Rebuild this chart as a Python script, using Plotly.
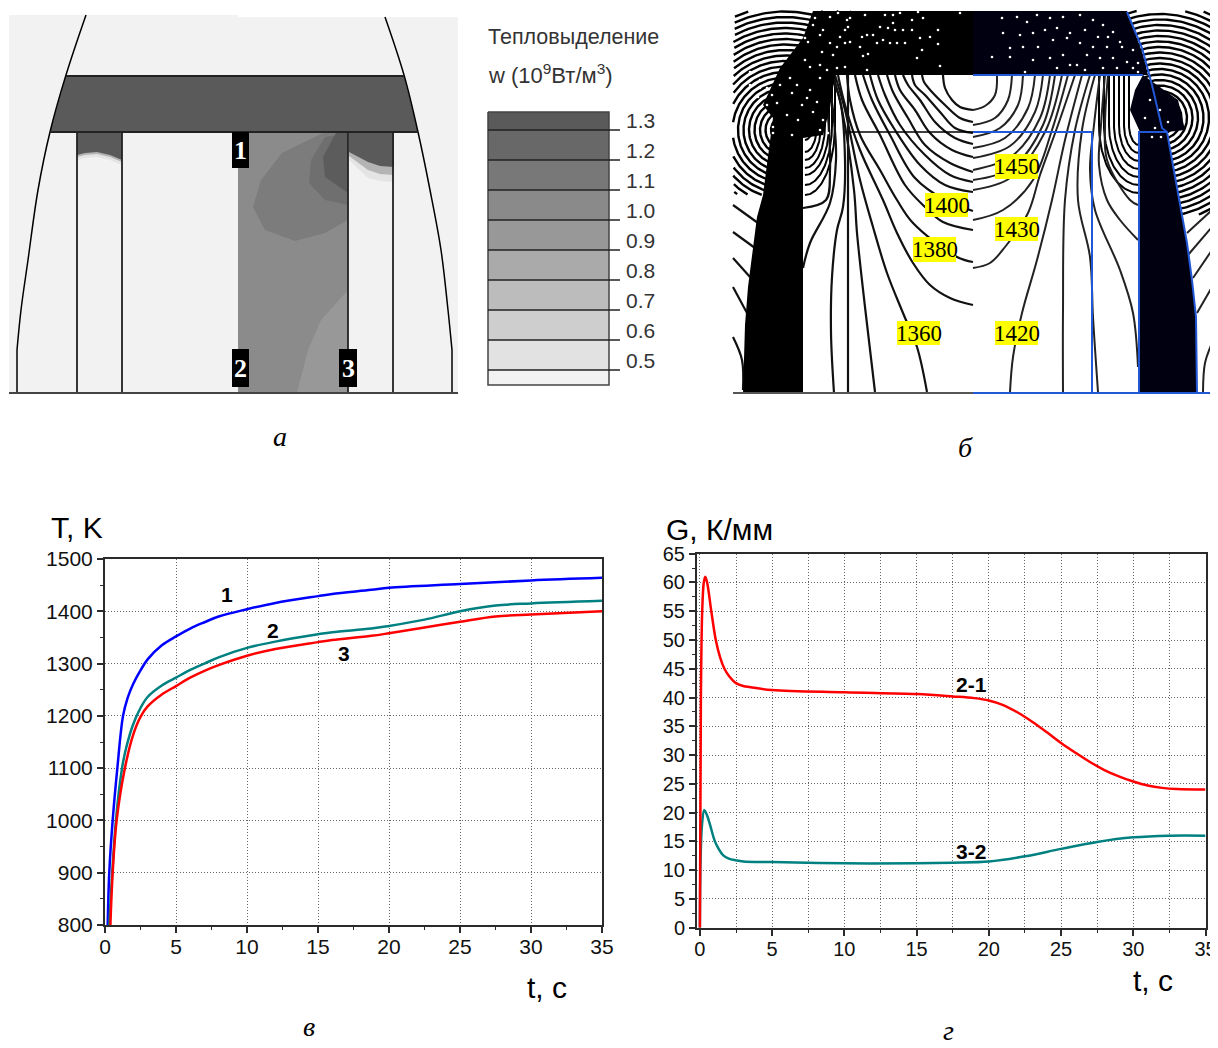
import math
import plotly.graph_objects as go

W, H = 1218, 1048
PAGE = 8  # the page's own margin: canvas pixel = picture pixel - 8

# ---------- chart в : temperature ----------
T_T1 = [0.19,0.3,0.54,0.87,1.27,1.6,2,2.5,3,4,5,6,7,8,10,12,15,16,18.75,20,25,30,35]
V_T1 = [800,900,1000,1100,1200,1235,1262,1287,1308,1335,1352,1367,1379,1390,1404,1416,1429,1433,1441,1445,1452,1459,1464]
T_T2 = [0.3,0.77,1.2,1.5,2,2.5,3,4,5,6,7,8,10,12,15,16,18.75,20,22.5,25,27.5,30,35]
V_T2 = [800,1000,1100,1140,1185,1215,1236,1258,1273,1288,1300,1312,1330,1342,1356,1360,1367,1372,1384,1400,1411,1415,1420]
T_T3 = [0.38,0.54,0.82,1.4,2,2.5,3,4,5,6,7,8,10,12,15,16,18.75,20,22.5,25,27.5,30,35]
V_T3 = [800,900,1000,1100,1165,1198,1218,1241,1257,1273,1286,1297,1315,1328,1341,1345,1353,1358,1369,1380,1390,1394,1400]

# ---------- chart г : gradient ----------
T_G21 = [0,0.07,0.16,0.27,0.37,0.5,0.79,1.1,1.4,1.7,2,2.5,3,3.5,5,10,15,17.5,19,20,21,22,23,24,25,26,27,28,29,30,31,32,33,35]
V_G21 = [0,40,55,60,61,60,55,50,47,45,43.8,42.5,42,41.8,41.3,40.9,40.6,40.2,39.9,39.5,38.7,37.4,35.8,34,32.1,30.4,28.8,27.4,26.3,25.4,24.7,24.3,24.1,24]
T_G32 = [0,0.05,0.15,0.3,0.5,0.7,1.04,1.3,1.6,2,2.5,3,5,10,15,17.5,20,22.5,25,27.5,30,32.5,35]
V_G32 = [0,12,18,20.4,19.5,17.9,15,13.7,12.6,12,11.7,11.5,11.4,11.2,11.2,11.3,11.5,12.4,13.7,14.9,15.7,16,16]

# ---------- panel а : heat-release map, drawn in the picture's own units ----------
BAND = [(66,76),(404,76),(418,132),(50,132)]
OUTLINE_L = [(86,15),(66,75),(50,132),(38,190),(28,260),(21,310),(17,350)]
OUTLINE_R = [(385,17),(404,75),(418,132),(430,190),(441,250),(448,310),(452,350)]
FOOT_X = [17,452]
WALL_X = [77,122,348,393]
STUB_L = [[(77,132),(122,132),(122,165),(110,160),(97,157),(85,158),(77,160)],
          [(77,132),(122,132),(122,162),(110,157),(97,154),(85,155),(77,157)],
          [(77,132),(122,132),(122,160),(110,155),(97,152),(85,153),(77,155)]]
STUB_R = [[(349,132),(394,132),(394,182),(380,181),(368,178),(349,160)],
          [(349,132),(394,132),(394,175),(380,174),(368,170),(349,156)],
          [(349,132),(394,132),(394,167),(380,166),(368,162),(349,152)]]
STUB_FILLS = ["#e4e4e4","#b4b4b4","#5a5a5a"]
ZONES = [
 ([(238,132),(348,132),(348,393),(238,393)], "#8b8b8b", False),
 ([(348,290),(321,320),(308,350),(297,393),(348,393)], "#989898", False),
 ([(323,133),(282,153),(261,180),(253,207),(265,230),(295,241),(325,233),(348,220),(348,133)], "#7c7c7c", False),
 ([(325,137),(311,160),(309,183),(325,200),(348,205),(348,133)], "#6f6f6f", False),
 ([(336,133),(323,157),(325,177),(348,193),(348,133)], "#5c5c5c", False),
]
NODE_BOXES = [("1",232,249,132,168),("2",232,249,349,387),("3",339,357,349,387)]
LEGEND_LEVELS = ["1.3","1.2","1.1","1.0","0.9","0.8","0.7","0.6","0.5"]
LEGEND_EDGES = [112,130,160,190,220,250,280,310,340,370,385]
LEGEND_FILLS = ["#5a5a5a","#686868","#787878","#8a8a8a","#989898","#aaaaaa","#bcbcbc","#cecece","#e2e2e2","#f2f2f2"]

# ---------- panel б : temperature contours ----------
ARC_L_RADII = [14+5.5*i for i in range(24)]
ARC_R_RADII = [16+5.5*i for i in range(24)]
FAN_L = [(8,15),(12,27),(16,35),(20,43),(24,50),(27,60),(30,70)]
FAN_R = [(10,20),(15,28),(20,36),(25,44),(30,52),(35,60),(40,68)]
CONT_L = [
 [(973,110),(960,107),(952,100),(945,88),(943,75)],
 [(973,122),(960,118),(945,105),(932,92),(924,82),(922,75)],
 [(973,133),(955,128),(940,112),(925,95),(915,85),(912,75)],
 [(973,144),(955,138),(935,122),(920,100),(908,85),(903,75)],
 [(973,157),(952,150),(930,133),(915,110),(900,90),(895,75)],
 [(973,172),(950,163),(925,145),(908,118),(893,92),(887,75)],
 [(973,182),(950,175),(925,155),(900,125),(885,95),(878,75)],
 [(973,192),(945,185),(920,165),(895,130),(878,100),(870,75)],
 [(973,211),(945,200),(915,178),(890,135),(872,100),(863,75)],
 [(973,230),(943,222),(925,207),(905,185),(880,135),(862,100),(855,75)],
 [(973,262),(957,257),(913,223),(897,200),(880,170),(860,135),(850,100),(847,75)],
 [(973,305),(950,298),(930,285),(913,263),(897,233),(883,200),(860,150),(845,105),(838,75)],
 [(927,392),(917,347),(903,313),(887,273),(873,227),(860,180),(845,110),(835,75)],
 [(875,392),(865,307),(857,233),(854,190),(842,110),(833,75)],
 [(848,393),(848,75)],
 [(834,393),(831,333),(832,277),(837,230),(843,207),(845,160),(840,100),(830,75)],
 [(803,268),(810,243),(830,203),(836,160),(834,120),(828,75)],
 [(803,208),(826,200),(830,170),(829,130),(824,75)],
 [(733,205),(758,223)],[(733,232),(755,248)],[(733,258),(750,277)],[(733,287),(747,313)],
 [(733,337),(742,360),(743,390)],
]
CONT_R = [
 [(973,110),(985,106),(995,95),(997,75)],
 [(973,125),(995,118),(1008,100),(1012,75)],
 [(973,137),(1000,128),(1018,105),(1023,75)],
 [(973,148),(1005,138),(1028,108),(1035,75)],
 [(973,158),(1010,146),(1035,112),(1043,75)],
 [(973,170),(1012,156),(1040,118),(1050,75)],
 [(973,180),(1012,168),(1043,125),(1055,75)],
 [(973,190),(1010,178),(1045,132),(1062,75)],
 [(973,220),(1003,210),(1033,180),(1052,130),(1068,75)],
 [(973,268),(990,263),(1005,247),(1028,213),(1040,175),(1058,125),(1075,75)],
 [(1010,392),(1013,357),(1022,313),(1037,260),(1052,200),(1065,140),(1082,75)],
 [(1063,392),(1063,310),(1065,200),(1075,130),(1090,75)],
 [(1098,392),(1093,317),(1090,257),(1078,200),(1082,130),(1095,75)],
 [(1138,367),(1133,313),(1120,270),(1095,210),(1090,170),(1094,125),(1100,75)],
 [(1138,240),(1120,220),(1107,200),(1099,165),(1101,125),(1105,75)],
 [(1138,205),(1130,200),(1107,160),(1105,125),(1108,75)],
 [(1187,233),(1212,210)],[(1188,255),(1212,227)],[(1193,278),(1212,250)],[(1197,313),(1212,287)],
 [(1203,392),(1205,363),(1212,343)],
]
BLACK_L = [(813,11),(973,11),(973,75),(835,75),(830,108),(823,135),(803,138),(803,393),(743,393),(745,325),
           (748,287),(752,257),(757,217),(763,195),(770,138),(773,118),(763,105),(780,68),(803,38)]
BLACK_R = [[(973,11),(1127,11),(1143,55),(1148,75),(973,75)],
           [(1143,75),(1178,100),(1185,130),(1167,132),(1140,132),(1130,110),(1135,90)],
           [(1139,133),(1167,133),(1180,205),(1187,243),(1192,280),(1196,317),(1197,393),(1139,393)]]
BLUE_LINES = [[(973,75),(1143,75)],[(1127,12),(1142,48),(1152,85),(1162,128),(1167,132),(1180,205),(1187,243),(1192,280),(1196,317),(1197,393)],
              [(973,132),(1092,132),(1092,393)],[(1139,393),(1139,132),(1167,132)],[(973,393),(1212,393)]]
SPECK_L = [(830,17),(838,13),(847,20),(850,18),(865,15),(885,15),(893,15),(900,13),(918,12),(960,13),(912,20),(923,18),
 (893,23),(880,27),(888,28),(895,30),(903,30),(912,30),(938,30),(873,35),(867,35),(862,37),(845,30),(848,27),(823,30),
 (820,35),(840,37),(830,43),(837,47),(845,43),(850,42),(860,47),(877,43),(883,40),(890,43),(897,43),(905,43),(920,38),
 (930,37),(938,44),(922,50),(917,58),(940,66),(868,54),(863,56),(833,55),(822,52),(810,67),(820,65),(837,68),(845,67),
 (867,70),(827,70),(805,60),(808,42),(805,38),(815,18),(813,25),(750,72),(760,80),(767,88),(772,95),(780,85),(790,78),
 (797,85),(810,90),(820,78),(807,98),(817,102),(802,105),(792,93),(777,103),(787,115),(798,120),(773,127),(773,133),
 (792,135),(813,112),(823,120),(820,130),(828,133),(767,105),(760,88),(750,85),(758,97)]
SPECK_R = [(1002,18),(1017,17),(1027,22),(1037,15),(1050,18),(1063,17),(1080,15),(1093,20),(1103,25),(1113,32),(1003,33),
 (1020,35),(1033,33),(1045,30),(1057,28),(1070,33),(1085,30),(1098,37),(1108,37),(1120,42),(992,57),(1010,48),(1023,47),
 (1038,47),(1053,40),(1067,38),(1080,43),(1093,47),(1107,47),(1122,47),(1133,50),(1010,57),(1033,60),(1050,58),(1063,55),
 (1077,65),(1087,55),(1100,58),(1113,58),(1127,62),(1138,63),(1085,70),(1025,72),(1057,68),(1070,65),(1103,68),(1117,68),
 (1133,68),(1138,72),(1150,100),(1160,110),(1145,118),(1168,122),(1155,128),(1152,137),(1161,137)]
YELLOW_LABELS = [("1450",995,1038,154,179),("1400",925,968,193,217),("1430",995,1038,217,241),
                 ("1380",913,956,237,262),("1360",897,940,321,345),("1420",995,1038,321,345)]

fig = go.Figure()

def poly(pts, fill, smooth=False):
    fig.add_trace(go.Scatter(x=[p[0] for p in pts]+[pts[0][0]], y=[p[1] for p in pts]+[pts[0][1]], mode="lines",
                             fill="toself", fillcolor=fill, line=dict(color=fill, width=0, shape="spline" if smooth else "linear"),
                             xaxis="x3", yaxis="y3", hoverinfo="skip", showlegend=False))

def path(pts, color="black", w=1.5, smooth=False):
    fig.add_trace(go.Scatter(x=[p[0] for p in pts], y=[p[1] for p in pts], mode="lines",
                             line=dict(color=color, width=w, shape="spline" if smooth else "linear"),
                             connectgaps=False, xaxis="x3", yaxis="y3", hoverinfo="skip", showlegend=False))

def arc(cx, cy, rx, ry, a0, a1, n=40):
    pts = []
    for i in range(n+1):
        a = math.radians(a0+(a1-a0)*i/n)
        pts.append((cx+rx*math.cos(a), cy+ry*math.sin(a)))
    return pts

def clip(pts, ymax):
    return [p if (733 <= p[0] <= 1212 and 11 <= p[1] <= ymax) else (None, None) for p in pts]

# panel а
poly([(9,15),(238,15),(238,17),(458,17),(458,393),(9,393)], "#f2f2f2")
poly(BAND, "#5a5a5a")
for st in (STUB_L, STUB_R):
    for s, f in zip(st, STUB_FILLS):
        poly(s, f)
for pts, f, sm in ZONES:
    poly(pts, f, sm)
path(OUTLINE_L, smooth=True); path(OUTLINE_R, smooth=True)
for x in FOOT_X:
    path([(x,350),(x,393)], "black", 1.5)
path([BAND[0],BAND[1]], "#222", 2); path([BAND[3],BAND[2]], "#222", 2)
for x in WALL_X:
    path([(x,132),(x,393)], "#222", 1.8)
path([(9,393),(458,393)], "#444", 2)
for _, x0, x1, y0, y1 in NODE_BOXES:
    poly([(x0,y0),(x1,y0),(x1,y1),(x0,y1)], "black")
for i, f in enumerate(LEGEND_FILLS):
    poly([(488,LEGEND_EDGES[i]),(609,LEGEND_EDGES[i]),(609,LEGEND_EDGES[i+1]),(488,LEGEND_EDGES[i+1])], f)
path([(488,112),(609,112),(609,385),(488,385),(488,112)], "#444", 1.5)
for y in LEGEND_EDGES[1:-1]:
    path([(488,y),(620,y)], "#222", 1.5)

# panel б
for r in ARC_L_RADII:
    path(clip(arc(785,130,r,r,90,300,160),195), "black", 2.4)
for r in ARC_R_RADII:
    path(clip(arc(1160,118,r,r,-110,95,160),215), "black", 2.4)
for rx, ry in FAN_L:
    path(arc(805,125,rx,ry,90,0)+[(805+rx,75)], "black", 2)
for rx, ry in FAN_R:
    path(arc(1139,125,rx,ry,90,180)+[(1139-rx,75)], "black", 2)
for c in CONT_L:
    path(c, "#111", 2.2, smooth=True)
for c in CONT_R:
    path(c, "#222", 2, smooth=True)
poly(BLACK_L, "black")
for b in BLACK_R:
    poly(b, "#000010")
path([(848,132),(973,132)], "black", 1.6)
path([(733,393),(973,393)], "#555", 2)
for b in BLUE_LINES:
    path(b, "#2257d6", 2)
for sp in (SPECK_L, SPECK_R):
    fig.add_trace(go.Scatter(x=[p[0] for p in sp], y=[p[1] for p in sp], mode="markers",
                             marker=dict(color="white", size=2.6, symbol="circle"),
                             xaxis="x3", yaxis="y3", hoverinfo="skip", showlegend=False))
for _, x0, x1, y0, y1 in YELLOW_LABELS:
    poly([(x0,y0),(x1,y0),(x1,y1),(x0,y1)], "#ffff00")

# charts
fig.add_trace(go.Scatter(x=T_T1, y=V_T1, mode="lines", line=dict(color="#0000ff", width=2.5, shape="spline"), showlegend=False, xaxis="x", yaxis="y"))
fig.add_trace(go.Scatter(x=T_T2, y=V_T2, mode="lines", line=dict(color="#008080", width=2.5, shape="spline"), showlegend=False, xaxis="x", yaxis="y"))
fig.add_trace(go.Scatter(x=T_T3, y=V_T3, mode="lines", line=dict(color="#ff0000", width=2.5, shape="spline"), showlegend=False, xaxis="x", yaxis="y"))
fig.add_trace(go.Scatter(x=T_G32, y=V_G32, mode="lines", line=dict(color="#008080", width=2.5, shape="spline"), showlegend=False, xaxis="x2", yaxis="y2"))
fig.add_trace(go.Scatter(x=T_G21, y=V_G21, mode="lines", line=dict(color="#ff0000", width=2.5, shape="spline"), showlegend=False, xaxis="x2", yaxis="y2"))

def note(text, x, y, size, family="Liberation Sans", color="black", **kw):
    return dict(text=text, x=x, y=y, xref="x3", yref="y3", showarrow=False, xanchor="center", yanchor="middle",
                font=dict(size=size, family=family, color=color), **kw)

SERIF = "Liberation Serif"
notes = [
 note("<b>1</b>",227,594,21), note("<b>2</b>",273,630,21), note("<b>3</b>",344,653,21),
 note("<b>2-1</b>",971,684,21), note("<b>3-2</b>",971,851,21),
 note("T, K",77,527,30), note("G, К/мм",719,529,30),
 note("t, с",547,987,30), note("t, с",1153,980,30),
 note("<i>а</i>",280,436,28,SERIF), note("<i>б</i>",965,447,28,SERIF),
 note("<i>в</i>",309,1026,28,SERIF), note("<i>г</i>",948,1030,28,SERIF),
 note("Тепловыделение",573,37,21.5,color="#333"), note("w (10<sup>9</sup>Вт/м<sup>3</sup>)",550,74,22,color="#333"),
]
for t, x0, x1, y0, y1 in NODE_BOXES:
    notes.append(note(f"<b>{t}</b>",(x0+x1)/2,(y0+y1)/2,26,SERIF,"white"))
for i, t in enumerate(LEGEND_LEVELS):
    notes.append(note(t,640,120+30*i,21,color="#333"))
for t, x0, x1, y0, y1 in YELLOW_LABELS:
    notes.append(note(t,(x0+x1)/2,(y0+y1)/2,23,SERIF))

CW, CH = W-PAGE, H-PAGE
def dx(a, b):
    return [(a-PAGE)/CW, (b-PAGE)/CW]
def dy(top, bottom):
    return [1-(bottom-PAGE)/CH, 1-(top-PAGE)/CH]

GRID_DASH = "1px,2px"
def ax(domain, rng, dtick, minor_dtick, anchor, size, grid_minor=False, **kw):
    return dict(domain=domain, range=rng, dtick=dtick, tick0=0, anchor=anchor, showline=True, mirror=True, automargin=False,
                linecolor="#2b2b2b", linewidth=2, ticks="outside", ticklen=6, tickwidth=1.6, tickcolor="#2b2b2b",
                showgrid=True, gridcolor="#666666", griddash=GRID_DASH, gridwidth=1, zeroline=False,
                tickfont=dict(family="Liberation Sans", size=size, color="#111"),
                minor=dict(dtick=minor_dtick, tick0=0, ticks="outside", ticklen=3, tickwidth=1.3, tickcolor="#2b2b2b",
                           showgrid=grid_minor, gridcolor="#666666", griddash=GRID_DASH, gridwidth=1), **kw)

fig.update_layout(
    width=CW, height=CH, margin=dict(l=0,r=0,t=0,b=0), paper_bgcolor="white", plot_bgcolor="rgba(0,0,0,0)",
    showlegend=False, annotations=notes,
    xaxis=ax(dx(105,602),[0,35],5,2.5,"y",21,ticklabelstandoff=-4),
    yaxis=ax(dy(559,925),[800,1500],100,50,"x",21),
    xaxis2=ax(dx(697,1205.5),[-0.2,35],5,2.5,"y2",20,grid_minor=True,ticklabelstandoff=-4),
    yaxis2=ax(dy(553.7,927.7),[0,65],5,2.5,"x2",20),
    xaxis3=dict(domain=[0,1],range=[PAGE,W],visible=False,anchor="y3",automargin=False),
    yaxis3=dict(domain=[0,1],range=[H,PAGE],visible=False,anchor="x3",automargin=False),
)
fig.write_html("out.html")
